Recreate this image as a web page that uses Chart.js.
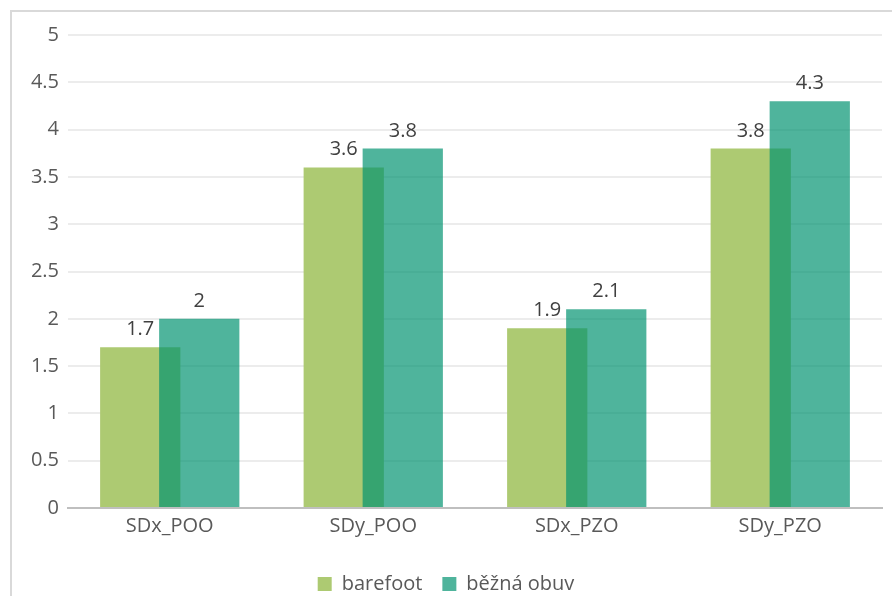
<!DOCTYPE html>
<html lang="cs">
<head>
    <meta charset="UTF-8">
    <title>barefoot vs běžná obuv</title>
    <script src="https://cdn.jsdelivr.net/npm/chart.js"></script>
    <style>
        html, body {
            margin: 0;
            padding: 0;
            background: #ffffff;
        }
        #chart-container {
            width: 892px;
            height: 596px;
        }
    </style>
</head>
<body>
    <div id="chart-container">
        <canvas id="sdChart"></canvas>
    </div>

    <script>
        // Kategorie a hodnoty
        const categories = ['SDx_POO', 'SDy_POO', 'SDx_PZO', 'SDy_PZO'];
        const barefoot = [1.7, 3.6, 1.9, 3.8];
        const bezna = [2, 3.8, 2.1, 4.3];
        const yTicks = [0, 0.5, 1, 1.5, 2, 2.5, 3, 3.5, 4, 4.5, 5];

        const fontFamily = "'Open Sans', 'DejaVu Sans', sans-serif";

        // Rámeček kolem grafu a bílé pozadí
        const frame = {
            id: 'frame',
            beforeDraw(chart) {
                const c = chart.ctx;
                c.save();
                c.fillStyle = '#ffffff';
                c.fillRect(0, 0, chart.width, chart.height);
                c.strokeStyle = '#d9d9d9';
                c.lineWidth = 2;
                c.strokeRect(11, 11, chart.width + 20, chart.height + 20);
                c.restore();
            }
        };

        // Sloupce kreslíme v pořadí datových sad (běžná obuv přes barefoot),
        // pak popisky hodnot nad sloupci
        const barsAndLabels = {
            id: 'barsAndLabels',
            beforeDatasetsDraw(chart) {
                const metas = chart.getSortedVisibleDatasetMetas();
                metas.forEach(meta => meta.controller.draw());

                const c = chart.ctx;
                c.save();
                c.font = '20px ' + fontFamily;
                c.fillStyle = '#404040';
                c.textAlign = 'center';
                c.textBaseline = 'alphabetic';
                chart.data.datasets.forEach((ds, i) => {
                    chart.getDatasetMeta(i).data.forEach((bar, j) => {
                        c.fillText(String(ds.data[j]), bar.x, bar.y - 12);
                    });
                });
                c.restore();
                return false;
            }
        };

        const ctx = document.getElementById('sdChart').getContext('2d');
        const sdChart = new Chart(ctx, {
            type: 'bar',
            data: {
                labels: categories,
                datasets: [{
                    label: 'barefoot',
                    data: barefoot,
                    backgroundColor: '#adca72',
                    categoryPercentage: 0.58,
                    barPercentage: 1.36
                }, {
                    label: 'běžná obuv',
                    data: bezna,
                    backgroundColor: 'rgba(0, 146, 112, 0.69)',
                    categoryPercentage: 0.58,
                    barPercentage: 1.36
                }]
            },
            options: {
                responsive: true,
                maintainAspectRatio: false,
                animation: false,
                layout: {
                    padding: { left: 10, right: 10, top: 35, bottom: -8 }
                },
                scales: {
                    x: {
                        grid: { display: false, drawTicks: false },
                        border: { color: '#bfbfbf', width: 2 },
                        ticks: {
                            color: '#595959',
                            font: { family: fontFamily, size: 20 },
                            padding: 6
                        },
                        afterFit(scale) { scale.height = 46; }
                    },
                    y: {
                        min: 0,
                        max: 5,
                        afterBuildTicks(scale) {
                            scale.ticks = yTicks.map(v => ({ value: v }));
                        },
                        grid: { color: '#ececec', lineWidth: 2, drawTicks: false },
                        border: { display: false },
                        ticks: {
                            color: '#595959',
                            font: { family: fontFamily, size: 20 },
                            padding: 9,
                            callback: v => String(v)
                        },
                        afterFit(scale) { scale.width = 58; }
                    }
                },
                plugins: {
                    legend: {
                        position: 'bottom',
                        labels: {
                            color: '#595959',
                            font: { family: fontFamily, size: 20 },
                            boxWidth: 14,
                            boxHeight: 14,
                            padding: 20
                        }
                    },
                    tooltip: { enabled: false }
                }
            },
            plugins: [frame, barsAndLabels]
        });
    </script>
</body>
</html>
